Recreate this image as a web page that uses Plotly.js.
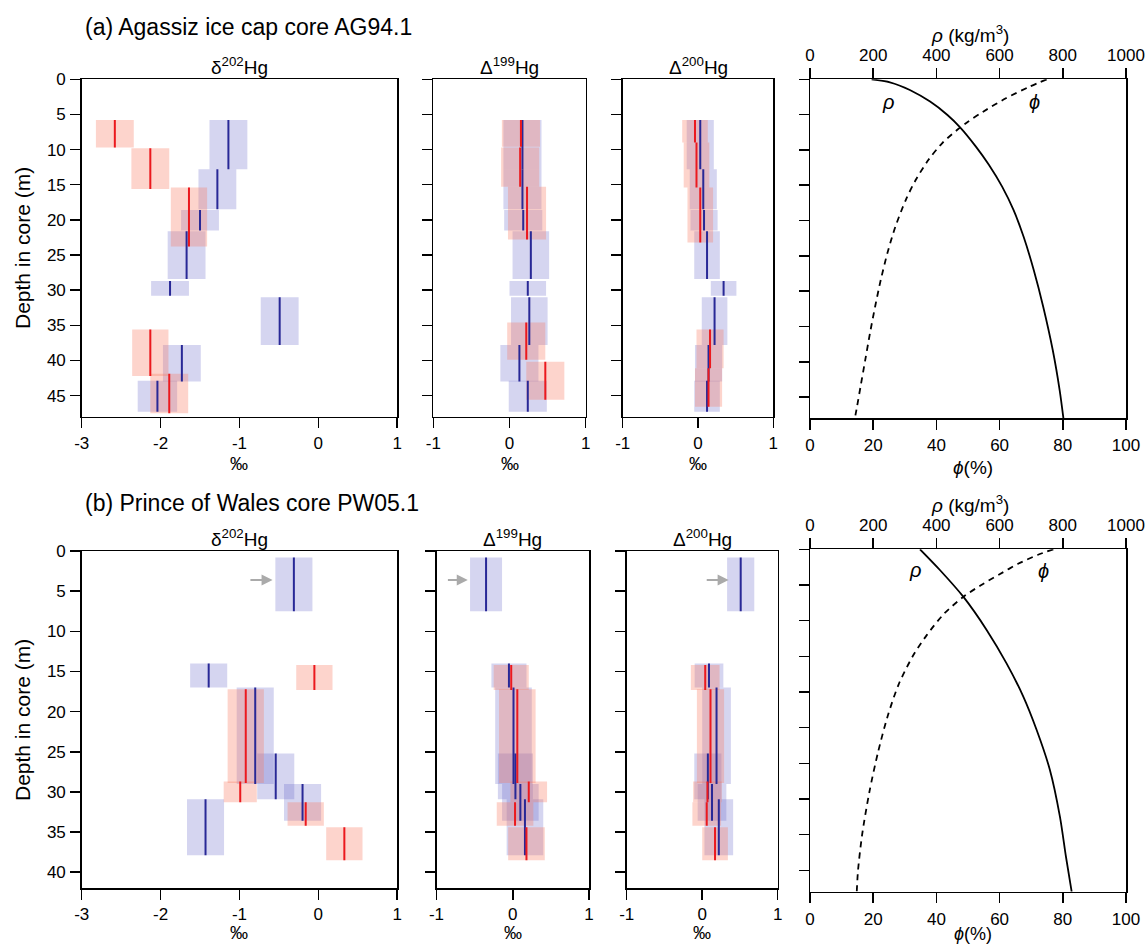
<!DOCTYPE html>
<html><head><meta charset="utf-8">
<script src="https://cdn.plot.ly/plotly-3.0.1.min.js"></script>
<style>html,body{margin:0;padding:0;background:#fff}#chart{width:1148px;height:945px}</style>
</head><body><div id="chart"></div>
<script>
// ================= DATA =================
// (a) Agassiz ice cap core AG94.1 — blue samples (depth intervals in m)
const aBlueTop = [5.8, 12.8, 18.6, 21.6, 28.7, 31.0, 37.8, 42.9];
const aBlueBot = [12.8, 18.5, 21.5, 28.4, 30.8, 37.8, 43.0, 47.3];
const a202Blue = [-1.14, -1.28, -1.50, -1.67, -1.88, -0.49, -1.73, -2.04];
const a199Blue = [0.17, 0.17, 0.18, 0.28, 0.24, 0.26, 0.13, 0.24];
const a200Blue = [0.03, 0.07, 0.08, 0.12, 0.34, 0.22, 0.14, 0.12];
const a202BlueErr = [0.24, 0.24, 0.24, 0.24, 0.24, 0.24, 0.24, 0.25];
const a199BlueErr = [0.25, 0.25, 0.25, 0.24, 0.24, 0.24, 0.25, 0.25];
const a200BlueErr = [0.18, 0.18, 0.18, 0.17, 0.17, 0.17, 0.18, 0.17];
// (a) red samples
const a202Red = [-2.58, -2.13, -1.64, -2.13, -1.89];
const a202RedTop = [5.8, 9.8, 15.4, 35.6, 41.9];
const a202RedBot = [9.7, 15.6, 23.8, 42.2, 47.5];
const a202RedErr = [0.24, 0.24, 0.23, 0.23, 0.24];
const a199Red = [0.15, 0.14, 0.23, 0.22, 0.47];
const a199RedTop = [5.8, 9.7, 15.3, 34.6, 40.2];
const a199RedBot = [9.6, 15.3, 22.8, 39.9, 45.6];
const a199RedErr = [0.25, 0.25, 0.25, 0.25, 0.25];
const a200Red = [-0.04, -0.02, 0.03, 0.16, 0.14];
const a200RedTop = [5.8, 9.0, 15.4, 35.6, 41.1];
const a200RedBot = [9.0, 15.4, 23.2, 41.1, 46.6];
const a200RedErr = [0.17, 0.17, 0.17, 0.18, 0.18];

// (b) Prince of Wales core PW05.1 — blue samples
const bBlueTop = [0.8, 14.0, 17.0, 25.2, 29.0, 30.9];
const bBlueBot = [7.5, 17.0, 29.0, 30.9, 33.6, 37.9];
const b202Blue = [-0.31, -1.39, -0.80, -0.54, -0.20, -1.43];
const b199Blue = [-0.35, -0.05, 0.01, 0.035, 0.10, 0.16];
const b200Blue = [0.51, 0.09, 0.19, 0.075, 0.13, 0.22];
const b202BlueErr = [0.235, 0.235, 0.235, 0.235, 0.235, 0.235];
const b199BlueErr = [0.21, 0.23, 0.24, 0.23, 0.24, 0.24];
const b200BlueErr = [0.18, 0.19, 0.19, 0.18, 0.19, 0.19];
// (b) red samples
const bRedTop = [14.2, 17.2, 28.7, 31.3, 34.4];
const bRedBot = [17.3, 28.9, 31.3, 34.2, 38.5];
const b202Red = [-0.05, -0.92, -0.99, -0.16, 0.33];
const b199Red = [-0.02, 0.06, 0.21, 0.03, 0.18];
const b200Red = [0.04, 0.11, 0.07, 0.06, 0.17];
const b202RedErr = [0.23, 0.23, 0.21, 0.23, 0.23];
const b199RedErr = [0.23, 0.24, 0.24, 0.24, 0.24];
const b200RedErr = [0.19, 0.18, 0.19, 0.19, 0.17];
// arrows marking the top sample of (b)
const bArrowDepth = 3.6;
const bArrow202 = [-0.88, -0.58];
const bArrow199 = [-0.87, -0.59];
const bArrow200 = [0.04, 0.35];

// density (rho, kg/m3) and porosity (phi, %) profiles
const aRhoDepth = [0, 0.42, 1.51, 3.16, 5.05, 6.8, 9.53, 12.1, 15.2, 18.5, 22.3, 27.0, 32.2, 38.3, 44.0, 48];
const aRho      = [195, 253, 316, 380, 435, 475, 525, 566, 608, 644, 676, 708, 738, 768, 790, 802];
const aPhiDepth = [0, 1.04, 2.69, 4.58, 6.0, 7.08, 9.06, 11.4, 14.3, 17.1, 20.9, 24.6, 28.4, 32.2, 35.9, 39.7, 43.5, 46.3, 48];
const aPhi      = [74.9, 69.5, 62.0, 54.8, 50.0, 46.8, 41.8, 37.5, 33.4, 30.3, 27.0, 24.5, 22.4, 20.6, 19.0, 17.5, 16.0, 14.9, 14.2];
const bRhoDepth = [0, 2.9, 6.64, 11.3, 16.0, 20.65, 25.3, 30.9, 37.5, 43.1, 48];
const bRho      = [348, 411, 485, 559, 622, 675, 717, 759, 791, 810, 828];
const bPhiDepth = [0, 0.8, 2.0, 3.5, 5.0, 6.64, 9.0, 12.0, 15.0, 19.0, 23.5, 28.5, 34.0, 40.0, 45.0, 48];
const bPhi      = [77.0, 72.0, 66.0, 60.0, 54.2, 48.6, 42.5, 37.0, 32.5, 28.0, 24.5, 21.5, 18.8, 16.5, 15.2, 14.8];

// tick labels
const d202Ticks = [-3, -2, -1, 0, 1];
const dTicks = [-1, 0, 1];
const phiTicks = [0, 20, 40, 60, 80, 100];
const rhoTicks = [0, 200, 400, 600, 800, 1000];
const aDepthTicks = [0, 5, 10, 15, 20, 25, 30, 35, 40, 45];
const bDepthTicks = [0, 5, 10, 15, 20, 25, 30, 35, 40];

// ================= STYLE =================
const FONT = 'Arial, "Liberation Sans", sans-serif';
const BLUE_FILL = 'rgba(105,105,200,0.28)';
const RED_FILL = 'rgba(250,120,95,0.32)';
const BLUE_LINE = 'rgb(40,40,150)';
const RED_LINE = 'rgb(235,25,30)';

function boxes(vals, errs, tops, bots, xa, ya, fill) {
  return vals.map((v, i) => ({
    type: 'scatter', mode: 'lines',
    x: [v - errs[i], v + errs[i], v + errs[i], v - errs[i], v - errs[i]],
    y: [tops[i], tops[i], bots[i], bots[i], tops[i]],
    fill: 'toself', fillcolor: fill, line: {width: 0},
    xaxis: xa, yaxis: ya, hoverinfo: 'skip', showlegend: false
  }));
}
function bars(vals, tops, bots, xa, ya, color) {
  const x = [], y = [];
  vals.forEach((v, i) => { x.push(v, v, null); y.push(tops[i], bots[i], null); });
  return {type: 'scatter', mode: 'lines', x, y, connectgaps: false,
    line: {color, width: 2}, xaxis: xa, yaxis: ya, hoverinfo: 'skip', showlegend: false};
}
function panel(xa, ya, bv, be, bt, bb, rv, re, rt, rb) {
  return [].concat(
    boxes(bv, be, bt, bb, xa, ya, BLUE_FILL),
    boxes(rv, re, rt, rb, xa, ya, RED_FILL),
    [bars(bv, bt, bb, xa, ya, BLUE_LINE), bars(rv, rt, rb, xa, ya, RED_LINE)]
  );
}

let traces = [];
traces = traces.concat(panel('x', 'y', a202Blue, a202BlueErr, aBlueTop, aBlueBot, a202Red, a202RedErr, a202RedTop, a202RedBot));
traces = traces.concat(panel('x2', 'y2', a199Blue, a199BlueErr, aBlueTop, aBlueBot, a199Red, a199RedErr, a199RedTop, a199RedBot));
traces = traces.concat(panel('x3', 'y3', a200Blue, a200BlueErr, aBlueTop, aBlueBot, a200Red, a200RedErr, a200RedTop, a200RedBot));
traces = traces.concat(panel('x6', 'y6', b202Blue, b202BlueErr, bBlueTop, bBlueBot, b202Red, b202RedErr, bRedTop, bRedBot));
traces = traces.concat(panel('x7', 'y7', b199Blue, b199BlueErr, bBlueTop, bBlueBot, b199Red, b199RedErr, bRedTop, bRedBot));
traces = traces.concat(panel('x8', 'y8', b200Blue, b200BlueErr, bBlueTop, bBlueBot, b200Red, b200RedErr, bRedTop, bRedBot));
function curve(x, y, xa, ya, dash) {
  return {type: 'scatter', mode: 'lines', x, y, xaxis: xa, yaxis: ya,
    line: {color: '#000', width: 1.8, dash: dash || 'solid', shape: 'spline', smoothing: 0.8},
    hoverinfo: 'skip', showlegend: false};
}
traces.push(curve(aRho, aRhoDepth, 'x5', 'y4'));
traces.push(curve(aPhi, aPhiDepth, 'x4', 'y4', '6px,5px'));
traces.push(curve(bRho, bRhoDepth, 'x10', 'y9'));
traces.push(curve(bPhi, bPhiDepth, 'x9', 'y9', '6px,5px'));

// ================= LAYOUT =================
const W = 1148, H = 945;
const px = (a, b) => [a / W, b / W];
const py = (top, bot) => [1 - bot / H, 1 - top / H];

function ax(extra) {
  return Object.assign({
    showline: true, linecolor: '#000', linewidth: 1.5, mirror: true,
    ticks: 'outside', ticklen: 10, tickwidth: 1.5, tickcolor: '#000',
    showgrid: false, zeroline: false, fixedrange: true,
    tickfont: {family: FONT, size: 17, color: '#000'}
  }, extra);
}
const lbl = arr => arr.map(v => String(v));
function xIso(dom, anchor, ticks) {
  return ax({domain: dom, anchor, range: [ticks[0], ticks[ticks.length - 1]],
    tickmode: 'array', tickvals: ticks, ticktext: lbl(ticks), ticklabelstandoff: 0});
}
function yDepth(dom, anchor, rng, ticks, labels) {
  return ax({domain: dom, anchor, range: rng, tickmode: 'array', tickvals: ticks,
    ticktext: lbl(ticks), showticklabels: labels, ticklabelstandoff: 1});
}

const X202 = px(81.7, 397.2);
const X199a = px(433.3, 585.7), X200a = px(622.7, 773.3);
const X199b = px(436.5, 589.0), X200b = px(626.7, 777.7);
const XDEN = px(810, 1126);
const YA = py(79.3, 416.7), YDA = py(79.3, 418.3);
const YB = py(551, 888.3), YDB = py(549.3, 891.7);

const layout = {
  width: W, height: H, margin: {l: 0, r: 0, t: 0, b: 0},
  paper_bgcolor: '#fff', plot_bgcolor: '#fff', showlegend: false,
  font: {family: FONT, color: '#000'},
  xaxis: xIso(X202, 'y', d202Ticks),
  yaxis: yDepth(YA, 'x', [48, 0], aDepthTicks, true),
  xaxis2: xIso(X199a, 'y2', dTicks),
  yaxis2: yDepth(YA, 'x2', [48, 0], aDepthTicks, false),
  xaxis3: xIso(X200a, 'y3', dTicks),
  yaxis3: yDepth(YA, 'x3', [48, 0], aDepthTicks, false),
  xaxis4: ax({domain: XDEN, anchor: 'y4', side: 'bottom', mirror: false, range: [0, 100],
    tickmode: 'array', tickvals: phiTicks, ticktext: lbl(phiTicks), ticklabelstandoff: 1}),
  xaxis5: ax({overlaying: 'x4', anchor: 'y4', side: 'top', mirror: false, range: [0, 1000],
    tickmode: 'array', tickvals: rhoTicks, ticktext: lbl(rhoTicks), ticklabelstandoff: 0}),
  yaxis4: yDepth(YDA, 'x4', [48, 0], aDepthTicks, false),
  xaxis6: xIso(X202, 'y6', d202Ticks),
  yaxis6: yDepth(YB, 'x6', [42, 0], bDepthTicks, true),
  xaxis7: xIso(X199b, 'y7', dTicks),
  yaxis7: yDepth(YB, 'x7', [42, 0], bDepthTicks, false),
  xaxis8: xIso(X200b, 'y8', dTicks),
  yaxis8: yDepth(YB, 'x8', [42, 0], bDepthTicks, false),
  xaxis9: ax({domain: XDEN, anchor: 'y9', side: 'bottom', mirror: false, range: [0, 100],
    tickmode: 'array', tickvals: phiTicks, ticktext: lbl(phiTicks), ticklabelstandoff: 1}),
  xaxis10: ax({overlaying: 'x9', anchor: 'y9', side: 'top', mirror: false, range: [0, 1000],
    tickmode: 'array', tickvals: rhoTicks, ticktext: lbl(rhoTicks), ticklabelstandoff: 0}),
  yaxis9: yDepth(YDB, 'x9', [48, 0], aDepthTicks, false),
  annotations: []
};

const A = layout.annotations;
function txt(text, xpx, ypx, size, opts) {
  A.push(Object.assign({text, xref: 'paper', yref: 'paper', x: xpx / W, y: 1 - ypx / H,
    showarrow: false, xanchor: 'center', yanchor: 'middle',
    font: {family: FONT, size, color: '#000'}}, opts || {}));
}
const mid = d => (d[0] + d[1]) / 2 * W;
// panel titles
txt('(a) Agassiz ice cap core AG94.1', 83, 27, 23, {xanchor: 'left'});
txt('(b) Prince of Wales core PW05.1', 83, 503, 23, {xanchor: 'left'});
// isotope headers
const hdrA = 66, hdrB = 538;
txt('δ<sup>202</sup>Hg', mid(X202), hdrA, 19);
txt('Δ<sup>199</sup>Hg', mid(X199a), hdrA, 19);
txt('Δ<sup>200</sup>Hg', mid(X200a), hdrA, 19);
txt('δ<sup>202</sup>Hg', mid(X202), hdrB, 19);
txt('Δ<sup>199</sup>Hg', mid(X199b), hdrB, 19);
txt('Δ<sup>200</sup>Hg', mid(X200b), hdrB, 19);
// x-axis units
const uA = 464, uB = 933;
txt('‰', mid(X202), uA, 18); txt('‰', mid(X199a), uA, 18); txt('‰', mid(X200a), uA, 18);
txt('‰', mid(X202), uB, 18); txt('‰', mid(X199b), uB, 18); txt('‰', mid(X200b), uB, 18);
// depth titles
txt('Depth in core (m)', 22, 248, 21, {textangle: -90});
txt('Depth in core (m)', 22, 720, 21, {textangle: -90});
// density axis titles
txt('<i>ρ</i> (kg/m<sup>3</sup>)', 970, 34, 19);
txt('<i>ϕ</i>(%)', 973, 467, 19);
txt('<i>ρ</i> (kg/m<sup>3</sup>)', 970, 504, 19);
txt('<i>ϕ</i>(%)', 973, 934, 18);
// curve labels
function curveLbl(t, x, y, xr, yr) {
  A.push({text: t, x, y, xref: xr, yref: yr, showarrow: false,
    font: {family: FONT, size: 20, color: '#000'}});
}
curveLbl('<i>ρ</i>', 248, 3.2, 'x5', 'y4');
curveLbl('<i>ϕ</i>', 712, 3.2, 'x5', 'y4');
curveLbl('<i>ρ</i>', 332, 2.9, 'x10', 'y9');
curveLbl('<i>ϕ</i>', 738, 3.1, 'x10', 'y9');
// arrows
function arrow(pair, xr, yr) {
  A.push({x: pair[1], y: bArrowDepth, ax: pair[0], ay: bArrowDepth, xref: xr, yref: yr,
    axref: xr, ayref: yr, text: '', showarrow: true, arrowhead: 2, arrowsize: 1.1,
    arrowwidth: 2, arrowcolor: '#aaaaaa', standoff: 0});
}
arrow(bArrow202, 'x6', 'y6');
arrow(bArrow199, 'x7', 'y7');
arrow(bArrow200, 'x8', 'y8');

Plotly.newPlot('chart', traces, layout, {displayModeBar: false, staticPlot: true});
</script>
</body></html>
